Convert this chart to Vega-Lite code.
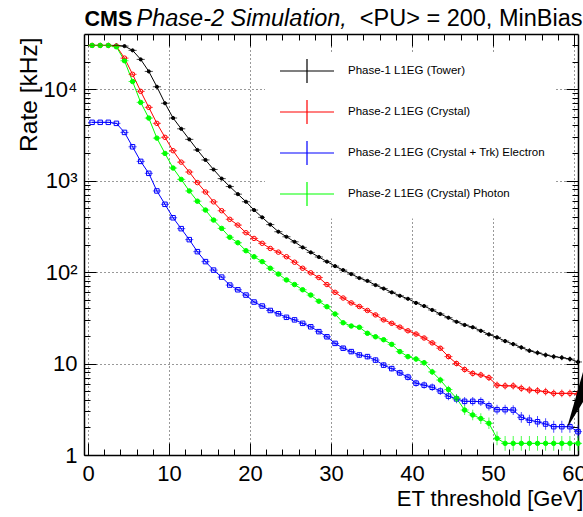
{
  "$schema": "https://vega.github.io/schema/vega-lite/v6.json",
  "width": 494,
  "height": 421,
  "autosize": {"type": "none"},
  "padding": {"left": 84, "top": 34, "right": 5, "bottom": 62},
  "background": "white",
  "config": {"view": {"stroke": null}, "font": "Liberation Sans"},
  "resolve": {"axis": {"x": "independent", "y": "independent"}},
  "data": {"values": [
    {"s":"tower","x":0.5,"v":30000},{"s":"tower","x":1.5,"v":30000},{"s":"tower","x":2.5,"v":30000},{"s":"tower","x":3.5,"v":30000},{"s":"tower","x":4.5,"v":29500},{"s":"tower","x":5.5,"v":26500},{"s":"tower","x":6.5,"v":21100},{"s":"tower","x":7.5,"v":15600},{"s":"tower","x":8.5,"v":10600},{"s":"tower","x":9.5,"v":7000},
    {"s":"tower","x":10.5,"v":4830},{"s":"tower","x":11.5,"v":3680},{"s":"tower","x":12.5,"v":2820},{"s":"tower","x":13.5,"v":2160},{"s":"tower","x":14.5,"v":1680},{"s":"tower","x":15.5,"v":1320},{"s":"tower","x":16.5,"v":1050},{"s":"tower","x":17.5,"v":860},{"s":"tower","x":18.5,"v":710},{"s":"tower","x":19.5,"v":587},
    {"s":"tower","x":20.5,"v":476},{"s":"tower","x":21.5,"v":396},{"s":"tower","x":22.5,"v":330},{"s":"tower","x":23.5,"v":276},{"s":"tower","x":24.5,"v":243},{"s":"tower","x":25.5,"v":214},{"s":"tower","x":26.5,"v":186},{"s":"tower","x":27.5,"v":164},{"s":"tower","x":28.5,"v":146},{"s":"tower","x":29.5,"v":130},
    {"s":"tower","x":30.5,"v":116},{"s":"tower","x":31.5,"v":105},{"s":"tower","x":32.5,"v":95},{"s":"tower","x":33.5,"v":86},{"s":"tower","x":34.5,"v":80},{"s":"tower","x":35.5,"v":72},{"s":"tower","x":36.5,"v":66},{"s":"tower","x":37.5,"v":60},{"s":"tower","x":38.5,"v":55},{"s":"tower","x":39.5,"v":51},
    {"s":"tower","x":40.5,"v":46},{"s":"tower","x":41.5,"v":42.5},{"s":"tower","x":42.5,"v":38.5},{"s":"tower","x":43.5,"v":34.8},{"s":"tower","x":44.5,"v":31.7},{"s":"tower","x":45.5,"v":28.6},{"s":"tower","x":46.5,"v":26.4},{"s":"tower","x":47.5,"v":24.9},{"s":"tower","x":48.5,"v":22.8},{"s":"tower","x":49.5,"v":20.8},
    {"s":"tower","x":50.5,"v":19.3},{"s":"tower","x":51.5,"v":17.6},{"s":"tower","x":52.5,"v":16.3},{"s":"tower","x":53.5,"v":15.0},{"s":"tower","x":54.5,"v":13.8},{"s":"tower","x":55.5,"v":13.1},{"s":"tower","x":56.5,"v":12.4},{"s":"tower","x":57.5,"v":11.9},{"s":"tower","x":58.5,"v":11.6},{"s":"tower","x":59.5,"v":11.2},{"s":"tower","x":60.5,"v":10.4},

    {"s":"crystal","x":0.5,"v":30000},{"s":"crystal","x":1.5,"v":30000},{"s":"crystal","x":2.5,"v":30000},{"s":"crystal","x":3.5,"v":29500},{"s":"crystal","x":4.5,"v":21800},{"s":"crystal","x":5.5,"v":14500},{"s":"crystal","x":6.5,"v":9440},{"s":"crystal","x":7.5,"v":6310},{"s":"crystal","x":8.5,"v":4220},{"s":"crystal","x":9.5,"v":2970},
    {"s":"crystal","x":10.5,"v":2120},{"s":"crystal","x":11.5,"v":1590},{"s":"crystal","x":12.5,"v":1240},{"s":"crystal","x":13.5,"v":950},{"s":"crystal","x":14.5,"v":750},{"s":"crystal","x":15.5,"v":585},{"s":"crystal","x":16.5,"v":468},{"s":"crystal","x":17.5,"v":377},{"s":"crystal","x":18.5,"v":326},{"s":"crystal","x":19.5,"v":269},
    {"s":"crystal","x":20.5,"v":233},{"s":"crystal","x":21.5,"v":206},{"s":"crystal","x":22.5,"v":181},{"s":"crystal","x":23.5,"v":165},{"s":"crystal","x":24.5,"v":147},{"s":"crystal","x":25.5,"v":128},{"s":"crystal","x":26.5,"v":110},{"s":"crystal","x":27.5,"v":98},{"s":"crystal","x":28.5,"v":87},{"s":"crystal","x":29.5,"v":73},
    {"s":"crystal","x":30.5,"v":60},{"s":"crystal","x":31.5,"v":52},{"s":"crystal","x":32.5,"v":46},{"s":"crystal","x":33.5,"v":42},{"s":"crystal","x":34.5,"v":38},{"s":"crystal","x":35.5,"v":34},{"s":"crystal","x":36.5,"v":30},{"s":"crystal","x":37.5,"v":27.5},{"s":"crystal","x":38.5,"v":25},{"s":"crystal","x":39.5,"v":22.8},
    {"s":"crystal","x":40.5,"v":21},{"s":"crystal","x":41.5,"v":19},{"s":"crystal","x":42.5,"v":16.8},{"s":"crystal","x":43.5,"v":14.7},{"s":"crystal","x":44.5,"v":11.9},{"s":"crystal","x":45.5,"v":10.0},{"s":"crystal","x":46.5,"v":8.6},{"s":"crystal","x":47.5,"v":7.8},{"s":"crystal","x":48.5,"v":7.5},{"s":"crystal","x":49.5,"v":7.0},
    {"s":"crystal","x":50.5,"v":5.8},{"s":"crystal","x":51.5,"v":5.7},{"s":"crystal","x":52.5,"v":5.7},{"s":"crystal","x":53.5,"v":5.36},{"s":"crystal","x":54.5,"v":5.13},{"s":"crystal","x":55.5,"v":5.04},{"s":"crystal","x":56.5,"v":4.92},{"s":"crystal","x":57.5,"v":4.72},{"s":"crystal","x":58.5,"v":4.72},{"s":"crystal","x":59.5,"v":4.72},{"s":"crystal","x":60.5,"v":4.64},

    {"s":"electron","x":0.5,"v":4330},{"s":"electron","x":1.5,"v":4330},{"s":"electron","x":2.5,"v":4330},{"s":"electron","x":3.5,"v":4220},{"s":"electron","x":4.5,"v":3360},{"s":"electron","x":5.5,"v":2340},{"s":"electron","x":6.5,"v":1620},{"s":"electron","x":7.5,"v":1200},{"s":"electron","x":8.5,"v":770},{"s":"electron","x":9.5,"v":550},
    {"s":"electron","x":10.5,"v":392},{"s":"electron","x":11.5,"v":298},{"s":"electron","x":12.5,"v":226},{"s":"electron","x":13.5,"v":167},{"s":"electron","x":14.5,"v":130},{"s":"electron","x":15.5,"v":105},{"s":"electron","x":16.5,"v":88},{"s":"electron","x":17.5,"v":72},{"s":"electron","x":18.5,"v":64},{"s":"electron","x":19.5,"v":56},
    {"s":"electron","x":20.5,"v":47},{"s":"electron","x":21.5,"v":42.5},{"s":"electron","x":22.5,"v":38},{"s":"electron","x":23.5,"v":35},{"s":"electron","x":24.5,"v":32},{"s":"electron","x":25.5,"v":30},{"s":"electron","x":26.5,"v":27.5},{"s":"electron","x":27.5,"v":25.2},{"s":"electron","x":28.5,"v":22.3},{"s":"electron","x":29.5,"v":19.6},
    {"s":"electron","x":30.5,"v":16.6},{"s":"electron","x":31.5,"v":14.7},{"s":"electron","x":32.5,"v":13.5},{"s":"electron","x":33.5,"v":12.4},{"s":"electron","x":34.5,"v":11.9},{"s":"electron","x":35.5,"v":10.9},{"s":"electron","x":36.5,"v":9.6},{"s":"electron","x":37.5,"v":8.8},{"s":"electron","x":38.5,"v":7.9},{"s":"electron","x":39.5,"v":7.1},
    {"s":"electron","x":40.5,"v":6.1},{"s":"electron","x":41.5,"v":5.8},{"s":"electron","x":42.5,"v":5.5},{"s":"electron","x":43.5,"v":5.0},{"s":"electron","x":44.5,"v":4.4},{"s":"electron","x":45.5,"v":4.1},{"s":"electron","x":46.5,"v":3.86},{"s":"electron","x":47.5,"v":3.86},{"s":"electron","x":48.5,"v":3.83},{"s":"electron","x":49.5,"v":3.45},
    {"s":"electron","x":50.5,"v":3.13},{"s":"electron","x":51.5,"v":3.13},{"s":"electron","x":52.5,"v":3.1},{"s":"electron","x":53.5,"v":2.58},{"s":"electron","x":54.5,"v":2.4},{"s":"electron","x":55.5,"v":2.31},{"s":"electron","x":56.5,"v":2.18},{"s":"electron","x":57.5,"v":2.04},{"s":"electron","x":58.5,"v":2.04},{"s":"electron","x":59.5,"v":2.04},{"s":"electron","x":60.5,"v":1.8},

    {"s":"photon","x":0.5,"v":30000},{"s":"photon","x":1.5,"v":30000},{"s":"photon","x":2.5,"v":30000},{"s":"photon","x":3.5,"v":29000},{"s":"photon","x":4.5,"v":20400},{"s":"photon","x":5.5,"v":12100},{"s":"photon","x":6.5,"v":7150},{"s":"photon","x":7.5,"v":4820},{"s":"photon","x":8.5,"v":2910},{"s":"photon","x":9.5,"v":1980},
    {"s":"photon","x":10.5,"v":1370},{"s":"photon","x":11.5,"v":1030},{"s":"photon","x":12.5,"v":770},{"s":"photon","x":13.5,"v":595},{"s":"photon","x":14.5,"v":476},{"s":"photon","x":15.5,"v":370},{"s":"photon","x":16.5,"v":300},{"s":"photon","x":17.5,"v":240},{"s":"photon","x":18.5,"v":209},{"s":"photon","x":19.5,"v":171},
    {"s":"photon","x":20.5,"v":147},{"s":"photon","x":21.5,"v":130},{"s":"photon","x":22.5,"v":110},{"s":"photon","x":23.5,"v":95},{"s":"photon","x":24.5,"v":82},{"s":"photon","x":25.5,"v":73},{"s":"photon","x":26.5,"v":64},{"s":"photon","x":27.5,"v":56},{"s":"photon","x":28.5,"v":48},{"s":"photon","x":29.5,"v":41.8},
    {"s":"photon","x":30.5,"v":34.8},{"s":"photon","x":31.5,"v":27.9},{"s":"photon","x":32.5,"v":25.7},{"s":"photon","x":33.5,"v":24.9},{"s":"photon","x":34.5,"v":21.4},{"s":"photon","x":35.5,"v":19.6},{"s":"photon","x":36.5,"v":18.2},{"s":"photon","x":37.5,"v":16.2},{"s":"photon","x":38.5,"v":13.5},{"s":"photon","x":39.5,"v":11.9},
    {"s":"photon","x":40.5,"v":11.2},{"s":"photon","x":41.5,"v":10.2},{"s":"photon","x":42.5,"v":8.1},{"s":"photon","x":43.5,"v":6.6},{"s":"photon","x":44.5,"v":5.2},{"s":"photon","x":45.5,"v":4.17},{"s":"photon","x":46.5,"v":3.1},{"s":"photon","x":47.5,"v":2.74},{"s":"photon","x":48.5,"v":2.5},{"s":"photon","x":49.5,"v":2.22},
    {"s":"photon","x":50.5,"v":1.52},{"s":"photon","x":51.5,"v":1.34},{"s":"photon","x":52.5,"v":1.34},{"s":"photon","x":53.5,"v":1.34},{"s":"photon","x":54.5,"v":1.34},{"s":"photon","x":55.5,"v":1.34},{"s":"photon","x":56.5,"v":1.34},{"s":"photon","x":57.5,"v":1.34},{"s":"photon","x":58.5,"v":1.34},{"s":"photon","x":59.5,"v":1.34},{"s":"photon","x":60.5,"v":1.34}
  ]},
  "layer": [
    {
      "mark": {"type": "line", "strokeWidth": 1},
      "encoding": {
        "x": {"field": "x", "type": "quantitative", "scale": {"domain": [-0.5, 60.5], "nice": false, "zero": false},
          "axis": {"orient": "bottom", "values": [0,10,20,30,40,50,60], "format": "d", "labelFontSize": 22, "labelColor": "#000", "labelFont": "Liberation Sans", "labelBaseline": "alphabetic", "labelPadding": 37, "labelFlush": false, "labelOverlap": false,
            "tickSize": -12, "tickColor": "#000", "tickWidth": 1, "domainColor": "#000", "domainWidth": 1.5,
            "grid": true, "gridColor": "#000", "gridDash": [1, 3], "gridOpacity": 0.8, "gridWidth": 1,
            "title": "ET threshold [GeV]", "titleFont": "Liberation Sans", "titleFontSize": 22, "titleFontWeight": "normal", "titleColor": "#000", "titleX": 499, "titleY": 50, "titleAlign": "right", "titleBaseline": "alphabetic", "titleAnchor": null}},
        "y": {"field": "v", "type": "quantitative", "scale": {"type": "log", "domain": [1, 40000], "nice": false},
          "axis": {"orient": "left", "values": [1,10,100,1000,10000], "labelExpr": "datum.value == 1 ? '1' : datum.value == 10 ? '10' : datum.value == 100 ? '10²' : datum.value == 1000 ? '10³' : '10⁴'", "labelFontSize": 22, "labelColor": "#000", "labelFont": "Liberation Sans", "labelPadding": 19, "labelBaseline": "middle", "labelAlign": "right", "labelFlush": false, "labelOverlap": false,
            "tickSize": -12, "tickColor": "#000", "tickWidth": 1, "domainColor": "#000", "domainWidth": 1.5,
            "grid": true, "gridColor": "#000", "gridDash": [1, 3], "gridOpacity": 0.8, "gridWidth": 1,
            "title": "Rate [kHz]", "titleFont": "Liberation Sans", "titleFontSize": 24.5, "titleFontWeight": "normal", "titleColor": "#000", "titleAngle": -90, "titleX": -48, "titleY": 3, "titleAlign": "right", "titleBaseline": "alphabetic", "titleAnchor": null}},
        "color": {"field": "s", "type": "nominal",
          "scale": {"domain": ["tower", "crystal", "electron", "photon"], "range": ["#000000", "#ff0000", "#0000ff", "#00ff00"]},
          "legend": {"orient": "none", "legendX": 181, "legendY": 18.5, "title": null, "padding": 10, "fillColor": "white", "strokeColor": null,
            "symbolType": "M-3.6,0H3.6M0,-1.6V1.6", "symbolSize": 225, "symbolStrokeWidth": 1.2, "symbolOffset": 23.5,
            "labelOffset": 32.5, "labelFontSize": 11.5, "labelFont": "Liberation Sans", "labelColor": "#000", "labelLimit": 400, "rowPadding": 12,
            "labelExpr": "datum.label == 'tower' ? 'Phase-1 L1EG (Tower)' : datum.label == 'crystal' ? 'Phase-2 L1EG (Crystal)' : datum.label == 'electron' ? 'Phase-2 L1EG (Crystal + Trk) Electron' : 'Phase-2 L1EG (Crystal) Photon'"}}
      }
    },
    {
      "mark": {"type": "point", "strokeWidth": 1, "opacity": 1, "filled": false},
      "encoding": {
        "x": {"field": "x", "type": "quantitative", "scale": {"domain": [-0.5, 60.5], "nice": false, "zero": false},
          "axis": {"orient": "bottom", "values": [0,2,4,6,8,10,12,14,16,18,20,22,24,26,28,30,32,34,36,38,40,42,44,46,48,50,52,54,56,58,60], "labels": false, "tickSize": -6, "tickColor": "#000", "tickWidth": 1, "domain": false, "grid": false, "title": null}},
        "y": {"field": "v", "type": "quantitative", "scale": {"type": "log", "domain": [1, 40000], "nice": false},
          "axis": {"orient": "left", "values": [2,3,4,5,6,7,8,9,20,30,40,50,60,70,80,90,200,300,400,500,600,700,800,900,2000,3000,4000,5000,6000,7000,8000,9000,20000,30000], "labels": false, "tickSize": -6, "tickColor": "#000", "tickWidth": 1, "domain": false, "grid": false, "title": null}},
        "color": {"field": "s", "type": "nominal", "scale": {"domain": ["tower", "crystal", "electron", "photon"], "range": ["#000000", "#ff0000", "#0000ff", "#00ff00"]}, "legend": null},
        "shape": {"condition": {"test": "datum.s == 'electron'", "value": "square"}, "value": "circle"},
        "fill": {"condition": [{"test": "datum.s == 'tower'", "value": "#000000"}, {"test": "datum.s == 'photon'", "value": "#00ff00"}], "value": "transparent"},
        "size": {"condition": {"test": "datum.s == 'tower'", "value": 10}, "value": 20}
      }
    },
    {
      "mark": {"type": "tick", "orient": "vertical", "thickness": 1},
      "encoding": {
        "x": {"field": "x", "type": "quantitative", "scale": {"domain": [-0.5, 60.5], "nice": false, "zero": false},
          "axis": {"orient": "top", "values": [0,10,20,30,40,50,60], "labels": false, "tickSize": -12, "tickColor": "#000", "tickWidth": 1, "domainColor": "#000", "domainWidth": 1.5, "grid": false,
            "title": "Phase-2 Simulation,", "titleFont": "Liberation Sans", "titleFontSize": 23.5, "titleFontStyle": "italic", "titleFontWeight": "normal", "titleColor": "#000", "titleX": 52, "titleY": -9, "titleAlign": "left", "titleBaseline": "alphabetic", "titleAnchor": null}},
        "y": {"field": "v", "type": "quantitative", "scale": {"type": "log", "domain": [1, 40000], "nice": false},
          "axis": {"orient": "right", "values": [1,10,100,1000,10000], "labels": false, "tickSize": -12, "tickColor": "#000", "tickWidth": 1, "domainColor": "#000", "domainWidth": 1.5, "grid": false, "title": null}},
        "color": {"field": "s", "type": "nominal", "scale": {"domain": ["tower", "crystal", "electron", "photon"], "range": ["#000000", "#ff0000", "#0000ff", "#00ff00"]}, "legend": null},
        "size": {"field": "v", "type": "quantitative", "scale": {"type": "pow", "exponent": -0.5, "domain": [1, 30000], "range": [17, 0.3], "zero": false}, "legend": null}
      }
    },
    {
      "mark": {"type": "tick", "orient": "horizontal", "thickness": 1, "size": 8.1},
      "encoding": {
        "x": {"field": "x", "type": "quantitative", "scale": {"domain": [-0.5, 60.5], "nice": false, "zero": false},
          "axis": {"orient": "top", "values": [0,2,4,6,8,10,12,14,16,18,20,22,24,26,28,30,32,34,36,38,40,42,44,46,48,50,52,54,56,58,60], "labels": false, "tickSize": -6, "tickColor": "#000", "tickWidth": 1, "domain": false, "grid": false,
            "title": "<PU> = 200, MinBias", "titleFont": "Liberation Sans", "titleFontSize": 23.5, "titleFontWeight": "normal", "titleColor": "#000", "titleX": 498, "titleY": -9, "titleAlign": "right", "titleBaseline": "alphabetic", "titleAnchor": null}},
        "y": {"field": "v", "type": "quantitative", "scale": {"type": "log", "domain": [1, 40000], "nice": false},
          "axis": {"orient": "right", "values": [2,3,4,5,6,7,8,9,20,30,40,50,60,70,80,90,200,300,400,500,600,700,800,900,2000,3000,4000,5000,6000,7000,8000,9000,20000,30000], "labels": false, "tickSize": -6, "tickColor": "#000", "tickWidth": 1, "domain": false, "grid": false, "title": null}},
        "color": {"field": "s", "type": "nominal", "scale": {"domain": ["tower", "crystal", "electron", "photon"], "range": ["#000000", "#ff0000", "#0000ff", "#00ff00"]}, "legend": null}
      }
    },
    {
      "data": {"values": [{"x": 60.5, "v": 4}]},
      "mark": {"type": "point", "shape": "M-1.1,2.8L0.82,-3.9L0.82,-0.32Z", "filled": true, "color": "#000000", "size": 400, "opacity": 1},
      "encoding": {
        "x": {"field": "x", "type": "quantitative", "scale": {"domain": [-0.5, 60.5], "nice": false, "zero": false},
          "axis": {"orient": "top", "labels": false, "ticks": false, "domain": false, "grid": false,
            "title": "CMS", "titleFont": "Liberation Sans", "titleFontSize": 21.5, "titleFontWeight": "bold", "titleColor": "#000", "titleX": 0, "titleY": -9, "titleAlign": "left", "titleBaseline": "alphabetic", "titleAnchor": null}},
        "y": {"field": "v", "type": "quantitative", "scale": {"type": "log", "domain": [1, 40000], "nice": false}, "axis": null}
      }
    }
  ]
}
